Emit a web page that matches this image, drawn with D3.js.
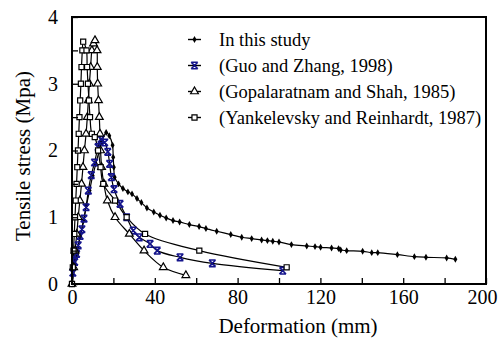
<!DOCTYPE html>
<html><head><meta charset="utf-8">
<script src="https://cdn.jsdelivr.net/npm/d3@7"></script>
<style>body{margin:0;background:#fff}svg{display:block}</style>
</head><body>
<script>
// ---- data ----
const xTicksMajor = [0, 40, 80, 120, 160, 200];
const xTicksMinor = [0, 20, 40, 60, 80, 100, 120, 140, 160, 180, 200];
const yTicksMajor = [0, 1, 2, 3, 4];
const yTicksMinor = [0, 0.5, 1, 1.5, 2, 2.5, 3, 3.5, 4];
const seriesNames = ["In this study", "(Guo and Zhang, 1998)", "(Gopalaratnam and Shah, 1985)", "(Yankelevsky and Reinhardt, 1987)"];

const studyX = [0,1.2,2.5,4,5.5,7,8.5,10,11.5,13,14.5,16.5,18,19.6,19.9,20.2,20.6,22.5,24.6,27,29,31.4,33.5,36.2,39.5,42.5,45.5,48.8,52,56.7,61.4,64.7,69.9,76.7,82,86.8,91.6,94.4,97,100,106,113.4,117.4,120.1,125.4,128.8,129.8,132.7,140.4,144.8,147.7,157.2,165.4,171,181,185.2];
const studyY = [0,0.22,0.45,0.72,0.95,1.18,1.4,1.62,1.8,1.98,2.13,2.27,2.22,2.08,1.9,1.75,1.6,1.5,1.43,1.38,1.35,1.28,1.22,1.14,1.08,1.03,0.99,0.95,0.93,0.89,0.86,0.83,0.79,0.74,0.70,0.68,0.66,0.65,0.64,0.63,0.59,0.57,0.56,0.55,0.54,0.53,0.51,0.50,0.49,0.47,0.47,0.44,0.41,0.40,0.39,0.37];

const guoX = [0.4,1.3,2.2,3,3.9,4.8,5.8,6.8,7.9,9.3,10.9,12.6,14,15.8,17.3,18.2,19,20.3,23.2,26.4,29.6,32.5,37.7,41.2,52.2,67.8,101.8];
const guoY = [0.17,0.33,0.45,0.58,0.72,0.82,0.98,1.15,1.4,1.63,1.82,2.05,2.17,2.12,1.98,1.8,1.6,1.42,1.2,1.0,0.8,0.7,0.6,0.5,0.4,0.31,0.2];

const gopX = [0,0.8,1.5,2.3,3.0,3.8,4.6,5.3,6.0,6.8,7.4,7.9,8.4,9.0,9.6,10.4,11.1,12.1,12.2,12.4,12.8,13.2,13.5,13.8,14.3,15.4,17.1,20.8,27.7,34.8,44.1,55];
const gopY = [0,0.25,0.5,0.75,1.0,1.25,1.5,1.75,2.0,2.25,2.5,2.75,3.0,3.25,3.5,3.6,3.65,3.5,3.25,3.0,2.75,2.5,2.25,2.0,1.75,1.5,1.25,1.0,0.75,0.5,0.25,0.13];

const yanX = [0,0.4,0.75,1.1,1.45,1.8,2.2,2.55,2.9,3.25,3.6,3.95,4.3,4.6,5.0,5.4,7.0,7.3,7.7,8.2,8.7,9.6,11.0,12.6,13.8,15.1,20.8,26.4,35.3,61.5,103.7];
const yanY = [0,0.25,0.5,0.75,1.0,1.25,1.5,1.75,2.0,2.25,2.5,2.75,3.0,3.25,3.5,3.63,3.5,3.25,3.0,2.75,2.5,2.25,2.2,2.0,1.75,1.5,1.25,1.0,0.75,0.5,0.25];

// ---- layout ----
const W = 498, H = 340;
const m = {left: 72, right: 12, top: 17, bottom: 56};
const font = "Liberation Serif";
const navy = "#14148c";

const svg = d3.select("body").append("svg").attr("width", W).attr("height", H)
  .attr("font-family", font);

const x = d3.scaleLinear().domain([0, 200]).range([m.left, W - m.right]);
const y = d3.scaleLinear().domain([0, 4]).range([H - m.bottom, m.top]);

const zip = (a, b) => a.map((v, i) => [v, b[i]]);
const line = d3.line().x(d => x(d[0])).y(d => y(d[1])).curve(d3.curveCatmullRom.alpha(0.5));

const series = [
  {name: seriesNames[0], data: zip(studyX, studyY), marker: "diamond"},
  {name: seriesNames[1], data: zip(guoX, guoY), marker: "star"},
  {name: seriesNames[2], data: zip(gopX, gopY), marker: "triangle"},
  {name: seriesNames[3], data: zip(yanX, yanY), marker: "square"}
];

function drawMarker(g, type, cx, cy) {
  if (type === "diamond") {
    g.append("path").attr("d", d3.symbol(d3.symbolDiamond, 14)())
      .attr("transform", `translate(${cx},${cy})`).attr("fill", "#000");
  } else if (type === "triangle") {
    g.append("path").attr("d", d3.symbol(d3.symbolTriangle, 26)())
      .attr("transform", `translate(${cx},${cy})`)
      .attr("fill", "#fff").attr("stroke", "#000").attr("stroke-width", 1.2);
  } else if (type === "square") {
    g.append("path").attr("d", d3.symbol(d3.symbolSquare, 26)())
      .attr("transform", `translate(${cx},${cy})`)
      .attr("fill", "#fff").attr("stroke", "#000").attr("stroke-width", 1.2);
  } else if (type === "star") {
    const r = 3.3;
    g.append("path")
      .attr("d", `M${-r},${-r}L${r},${r}M${-r},${r}L${r},${-r}M${-r},${-r}L${r},${-r}M${-r},${r}L${r},${r}`)
      .attr("transform", `translate(${cx},${cy})`)
      .attr("fill", "none").attr("stroke", navy).attr("stroke-width", 1.6);
  }
}

const plot = svg.append("g");
series.forEach(s => {
  plot.append("path").datum(s.data).attr("d", line)
    .attr("fill", "none").attr("stroke", "#000").attr("stroke-width", 1.2);
});
series.forEach(s => {
  const g = plot.append("g");
  s.data.forEach(d => drawMarker(g, s.marker, x(d[0]), y(d[1])));
});

svg.append("rect").attr("x", m.left).attr("y", m.top)
  .attr("width", W - m.right - m.left).attr("height", H - m.bottom - m.top)
  .attr("fill", "none").attr("stroke", "#000").attr("stroke-width", 2);

const xAxisMinor = d3.axisTop(x).tickValues(xTicksMinor).tickSize(6).tickFormat("");
svg.append("g").attr("transform", `translate(0,${y(0)})`).call(xAxisMinor)
  .call(g => g.select(".domain").remove())
  .call(g => g.selectAll("line").attr("stroke-width", 1.3));
const xAxisLabels = d3.axisBottom(x).tickValues(xTicksMajor).tickSize(0).tickPadding(6).tickFormat(d3.format("d"));
svg.append("g").attr("transform", `translate(0,${y(0)})`).call(xAxisLabels)
  .attr("font-family", font).attr("font-size", 20)
  .call(g => g.select(".domain").remove())
  .call(g => g.selectAll("text").attr("fill", "#000")
    .filter(d => d === 200).attr("text-anchor", "end").attr("dx", 11));

const yAxisMinor = d3.axisRight(y).tickValues(yTicksMinor).tickSize(6).tickFormat("");
svg.append("g").attr("transform", `translate(${x(0)},0)`).call(yAxisMinor)
  .call(g => g.select(".domain").remove())
  .call(g => g.selectAll("line").attr("stroke-width", 1.3));
const yAxisLabels = d3.axisLeft(y).tickValues(yTicksMajor).tickSize(0).tickPadding(14).tickFormat(d3.format("d"));
svg.append("g").attr("transform", `translate(${x(0)},0)`).call(yAxisLabels)
  .attr("font-family", font).attr("font-size", 20)
  .call(g => g.select(".domain").remove())
  .call(g => g.selectAll("text").attr("fill", "#000"));

svg.append("text").attr("x", 298).attr("y", 333)
  .attr("text-anchor", "middle").attr("font-size", 21).text("Deformation (mm)");
svg.append("text").attr("transform", `translate(30,${156}) rotate(-90)`)
  .attr("text-anchor", "middle").attr("font-size", 21).text("Tensile stress (Mpa)");

const lg = svg.append("g");
series.forEach((s, i) => {
  const cy = 39.5 + i * 26;
  lg.append("line").attr("x1", 188).attr("x2", 201).attr("y1", cy).attr("y2", cy)
    .attr("stroke", "#000").attr("stroke-width", 1.4);
  drawMarker(lg, s.marker, 194.5, cy);
  lg.append("text").attr("x", 219).attr("y", cy + 6).attr("font-size", 18.5).text(s.name);
});
</script>
</body></html>
